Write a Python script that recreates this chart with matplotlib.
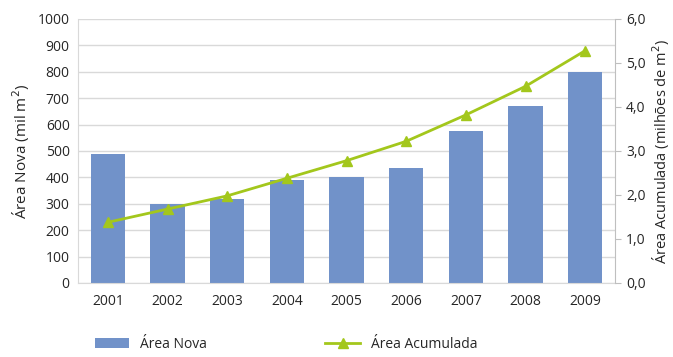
import numpy as np
import matplotlib.pyplot as plt

plt.rcParams['font.family'] = ['Open Sans', 'DejaVu Sans']

# data
years = ['2001', '2002', '2003', '2004', '2005', '2006', '2007', '2008', '2009']
area_nova = [490, 300, 320, 390, 400, 435, 575, 670, 800]          # mil m2
area_acumulada = [1.38, 1.68, 1.98, 2.38, 2.78, 3.22, 3.82, 4.47, 5.28]  # milhoes de m2

bar_color = '#7192C9'
line_color = '#A3C71C'
grid_color = '#D9D9D9'
text_color = '#262626'

fig = plt.figure(figsize=(6.73, 3.57), dpi=100)
ax = fig.add_axes([78 / 673, 1 - 283 / 357, (615 - 78) / 673, (283 - 19) / 357])
x = np.arange(len(years))

ax.bar(x, area_nova, width=0.57, color=bar_color, zorder=2, label='Área Nova')
ax.set_xlim(-0.5, len(years) - 0.5)
ax.set_ylim(0, 1000)
ax.set_yticks(range(0, 1001, 100))
ax.set_xticks(x)
ax.set_xticklabels(years)
ax.yaxis.grid(True, color=grid_color, linewidth=1, zorder=0)
ax.set_axisbelow(True)
ax.tick_params(axis='x', length=0, pad=8, labelsize=10, colors=text_color)
ax.tick_params(axis='y', length=0, pad=6, labelsize=10, colors=text_color)
ax.set_ylabel('Área Nova (mil m$^2$)', fontsize=11, color=text_color, labelpad=4)
for s in ['top', 'right']:
    ax.spines[s].set_visible(False)
for s in ['left', 'bottom']:
    ax.spines[s].set_color(grid_color)

ax2 = ax.twinx()
ax2.plot(x, area_acumulada, color=line_color, linewidth=2, marker='^',
         markersize=7.5, zorder=3, label='Área Acumulada')
ax2.set_ylim(0, 6)
ax2.set_yticks(np.arange(0, 6.01, 1))
ax2.set_yticklabels([f'{v:.1f}'.replace('.', ',') for v in np.arange(0, 6.01, 1)])
ax2.tick_params(axis='y', length=4, color='#BFBFBF', pad=4, labelsize=10, colors=text_color)
ax2.tick_params(axis='y', color='#BFBFBF')
ax2.set_ylabel('Área Acumulada (milhões de m$^2$)', fontsize=10.5, color=text_color, labelpad=3)
for s in ['top', 'left', 'bottom']:
    ax2.spines[s].set_visible(False)
ax2.spines['right'].set_color('#BFBFBF')

h1, l1 = ax.get_legend_handles_labels()
h2, l2 = ax2.get_legend_handles_labels()
fig.legend(h1 + h2, l1 + l2, loc='lower left', bbox_to_anchor=(82 / 673, -0.02),
           ncol=2, frameon=False, fontsize=10, columnspacing=8.5,
           handlelength=2.5, handletextpad=0.8, labelcolor=text_color)

fig.savefig('out.png', dpi=100)
